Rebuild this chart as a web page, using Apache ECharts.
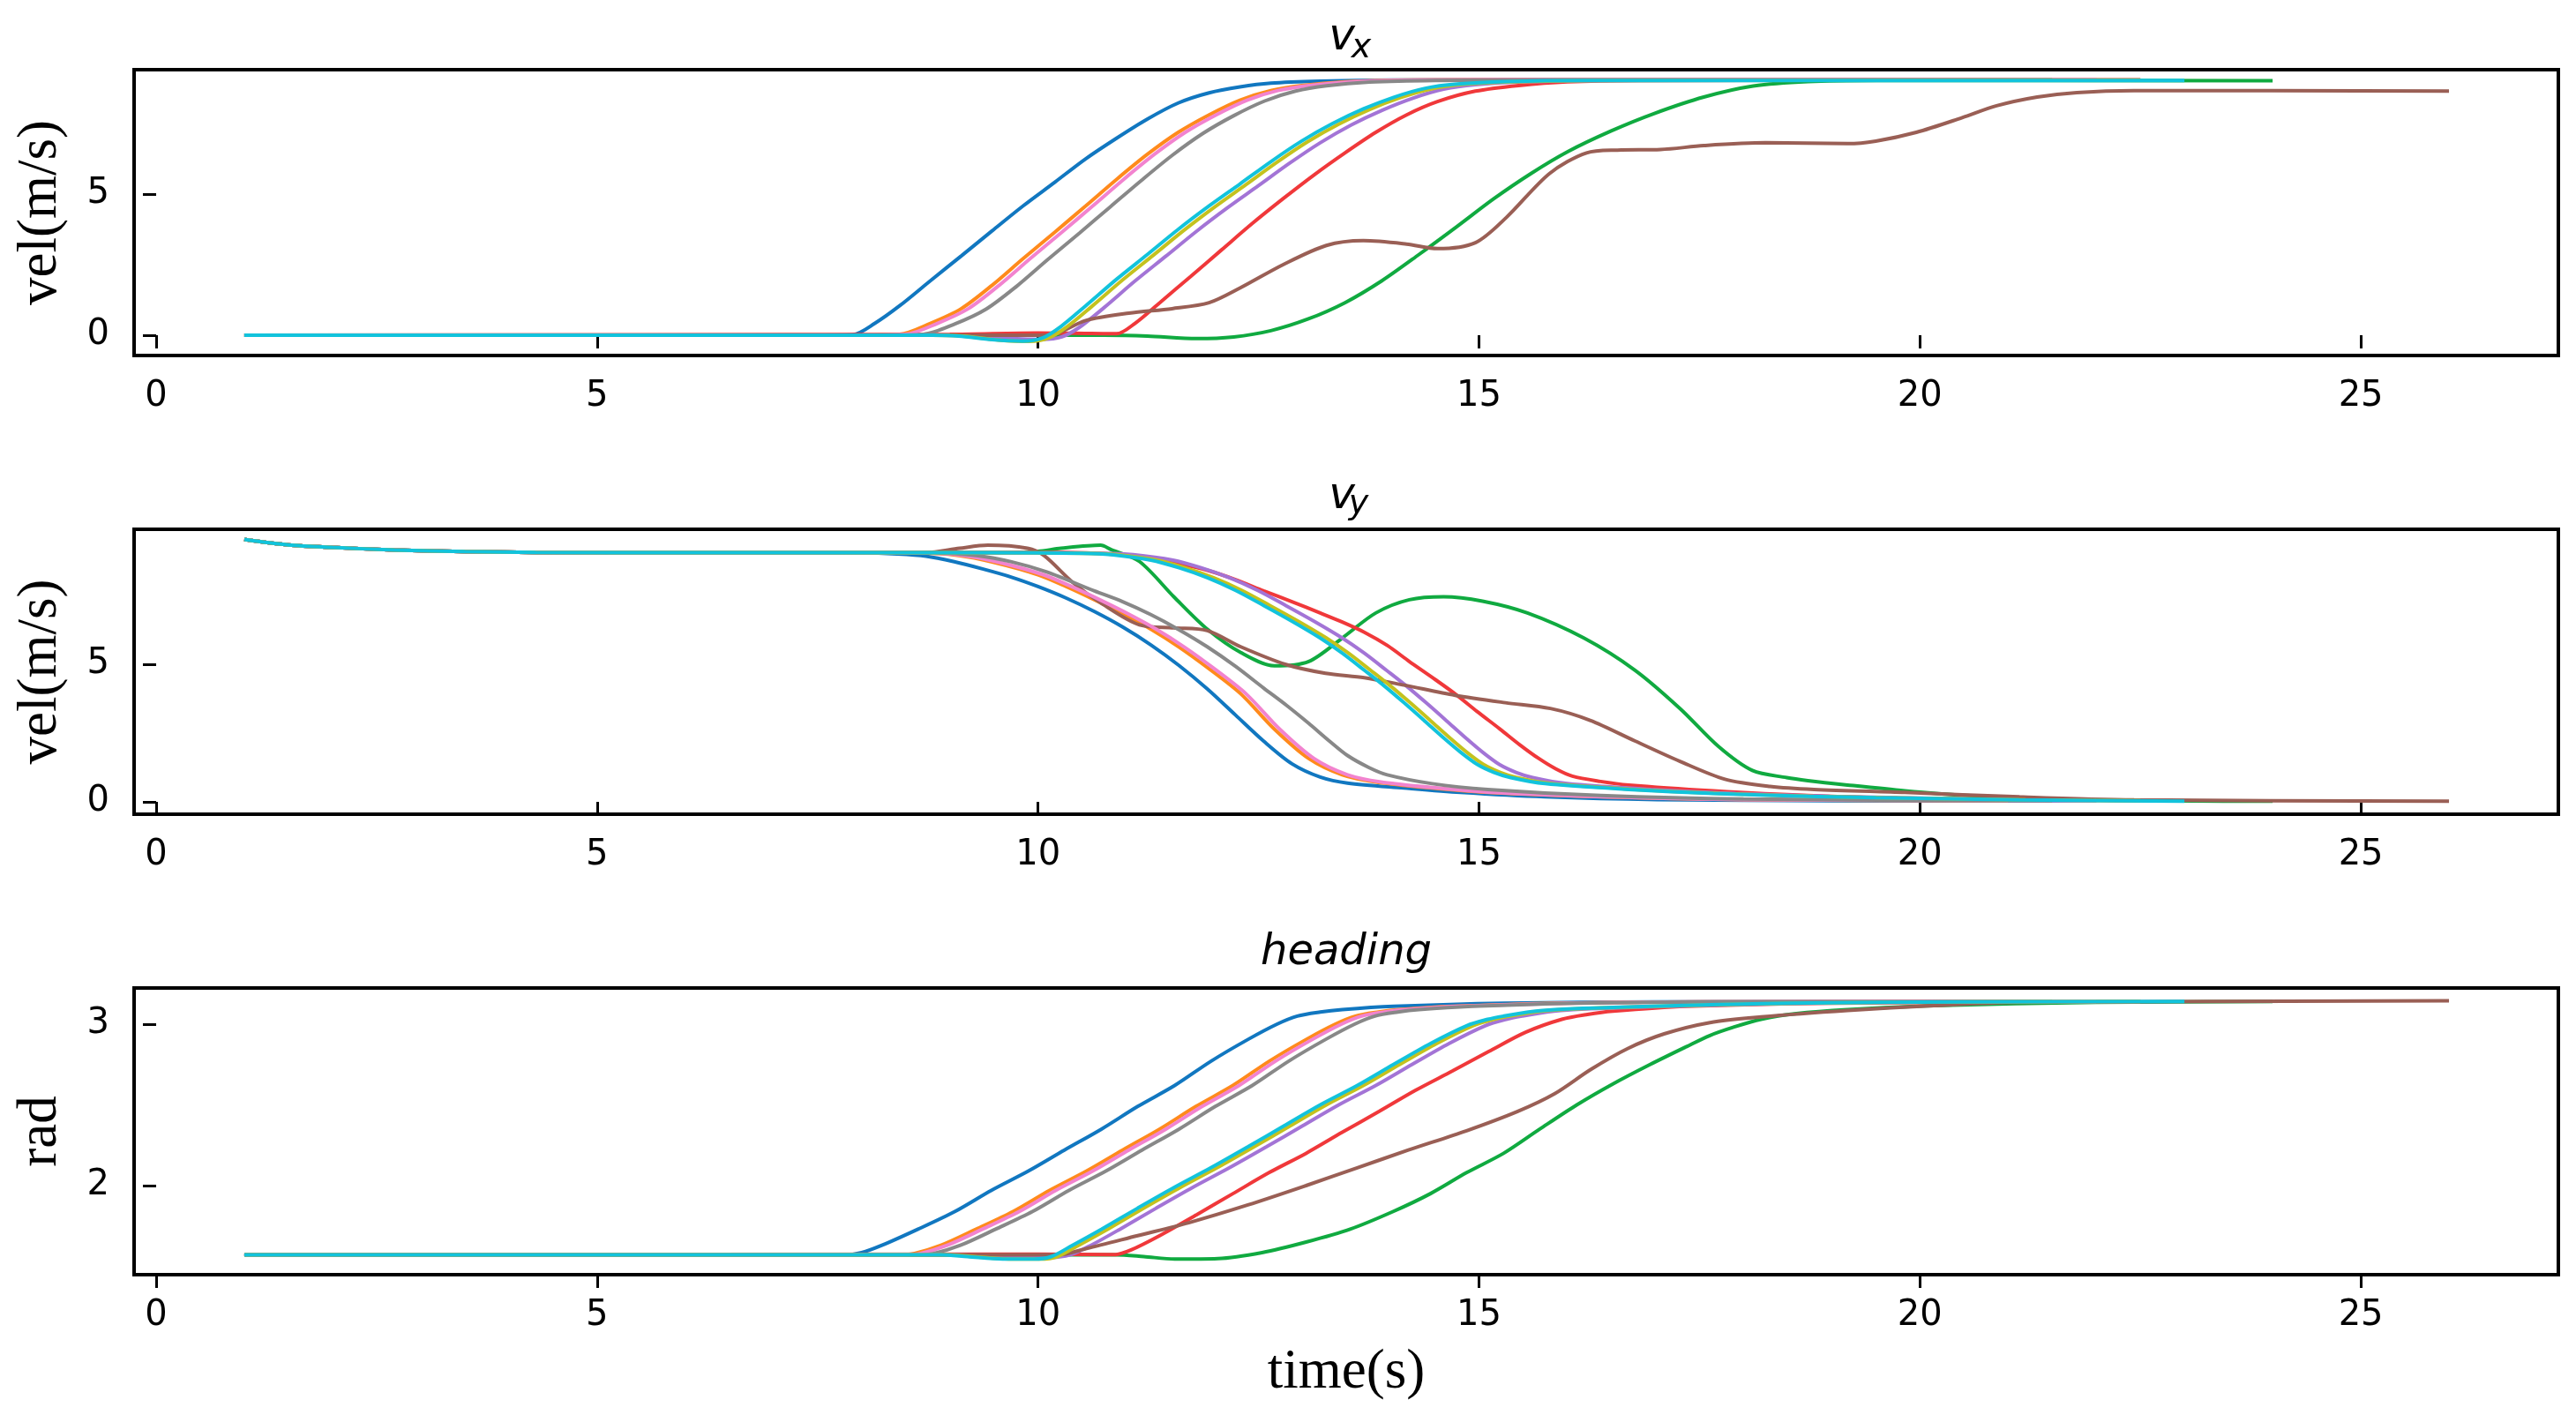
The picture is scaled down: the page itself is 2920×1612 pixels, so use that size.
<!DOCTYPE html>
<html>
<head>
<meta charset="utf-8">
<script src="https://cdn.jsdelivr.net/npm/echarts@6/dist/echarts.min.js"></script>
<style>
html,body{margin:0;padding:0;background:#fff;}
#chart{width:2920px;height:1612px;}
</style>
</head>
<body>
<div id="chart"></div>
<script>
// ---------- tick labels ----------
const TIME_TICKS = [0, 5, 10, 15, 20, 25];
const VX_TICKS = [0, 5];
const VY_TICKS = [0, 5];
const HEAD_TICKS = [2, 3];

// ---------- series (order as drawn) ----------
const NAMES = ['run1', 'run2', 'run3', 'run4', 'run5', 'run6', 'run7', 'run8', 'run9', 'run10'];
const COLORS = ['#1177c0', '#ff8a1c', '#10aa40', '#f0383a', '#a374d6', '#9a5f55', '#f283cf', '#888888', '#c4c21e', '#12c3dc'];

// ---------- v_x  [time, value] ----------
const vx_blue = [[1,0],[7.5,0],[7.9,0.02],[8.15,0.42],[8.43,1.04],[8.78,1.93],[9.13,2.81],[9.48,3.7],[9.83,4.58],[10.19,5.42],[10.54,6.25],[10.89,6.98],[11.24,7.66],[11.59,8.23],[11.94,8.59],[12.29,8.8],[12.64,8.93],[13.2,9.0],[14,9.04],[16,9.05],[22,9.05]];
const vx_orange = [[1,0],[8.0,0],[8.43,0.03],[8.78,0.42],[9.13,0.94],[9.48,1.77],[9.83,2.71],[10.19,3.65],[10.54,4.58],[10.89,5.52],[11.24,6.41],[11.59,7.19],[11.94,7.81],[12.29,8.33],[12.64,8.67],[12.99,8.85],[13.48,8.98],[14.2,9.04],[16,9.06],[21,9.06]];
const vx_green = [[1,0],[10.75,0],[11.24,-0.03],[11.8,-0.12],[12.22,-0.06],[12.64,0.16],[13.06,0.57],[13.48,1.15],[13.9,1.93],[14.32,2.86],[14.75,3.85],[15.17,4.84],[15.59,5.73],[16.01,6.51],[16.5,7.24],[16.99,7.86],[17.55,8.44],[18.11,8.83],[18.73,8.99],[19.5,9.03],[24,9.02]];
const vx_red = [[1,0],[9.0,0.03],[10.0,0.08],[10.6,0.06],[10.89,0.05],[11.1,0.42],[11.38,1.15],[11.73,2.08],[12.08,3.02],[12.43,3.96],[12.78,4.84],[13.13,5.68],[13.48,6.46],[13.83,7.19],[14.18,7.81],[14.53,8.28],[14.96,8.65],[15.45,8.85],[16.0,8.98],[16.8,9.03],[22.5,9.05]];
const vx_purple = [[1,0],[8.9,0],[9.3,-0.03],[9.7,-0.12],[10.05,-0.15],[10.27,-0.06],[10.47,0.28],[10.75,0.98],[11.1,1.92],[11.45,2.8],[11.8,3.69],[12.15,4.52],[12.5,5.3],[12.85,6.09],[13.2,6.82],[13.55,7.45],[13.9,7.97],[14.25,8.4],[14.6,8.72],[14.96,8.88],[15.52,8.98],[16.4,9.03],[22.5,9.04]];
const vx_brown = [[1,0],[10.12,0],[10.54,0.52],[11.03,0.78],[11.52,0.94],[11.94,1.15],[12.29,1.67],[12.78,2.5],[13.27,3.18],[13.69,3.35],[14.18,3.23],[14.53,3.07],[14.96,3.28],[15.31,4.17],[15.8,5.73],[16.22,6.46],[16.57,6.56],[17.06,6.58],[17.55,6.72],[18.25,6.82],[19.18,6.79],[19.5,6.88],[19.96,7.19],[20.48,7.71],[20.87,8.13],[21.33,8.44],[21.78,8.6],[22.43,8.67],[26,8.65]];
const vx_pink = [[1,0],[8.1,0],[8.5,0.03],[8.86,0.42],[9.21,0.94],[9.56,1.77],[9.91,2.71],[10.27,3.65],[10.62,4.58],[10.97,5.52],[11.32,6.41],[11.67,7.19],[12.02,7.81],[12.37,8.33],[12.72,8.67],[13.07,8.85],[13.56,8.98],[14.3,9.04],[16,9.06],[22,9.06]];
const vx_gray = [[1,0],[8.3,0],[8.7,0.03],[9.06,0.4],[9.41,0.92],[9.76,1.74],[10.11,2.68],[10.47,3.62],[10.82,4.55],[11.17,5.48],[11.52,6.37],[11.87,7.15],[12.22,7.78],[12.57,8.3],[12.92,8.65],[13.27,8.84],[13.76,8.97],[14.5,9.03],[16,9.05],[21.5,9.05]];
const vx_olive = [[1,0],[8.8,0],[9.15,-0.03],[9.55,-0.17],[9.9,-0.22],[10.12,-0.1],[10.33,0.3],[10.61,1.02],[10.96,1.96],[11.31,2.84],[11.66,3.73],[12.01,4.56],[12.36,5.34],[12.71,6.13],[13.06,6.86],[13.41,7.48],[13.76,8.0],[14.11,8.42],[14.46,8.73],[14.82,8.89],[15.38,8.98],[16.3,9.03],[22.5,9.04]];
const vx_cyan = [[1,0],[8.8,0],[9.1,-0.03],[9.48,-0.16],[9.83,-0.21],[10.05,-0.1],[10.26,0.31],[10.54,1.04],[10.89,1.98],[11.24,2.86],[11.59,3.75],[11.94,4.58],[12.29,5.36],[12.64,6.15],[12.99,6.88],[13.34,7.5],[13.69,8.02],[14.04,8.44],[14.39,8.75],[14.75,8.9],[15.31,8.99],[16.2,9.03],[23,9.03]];

// ---------- v_y  [time, value] ----------
const vy_start = [[1,9.53],[1.5,9.33],[2,9.24],[2.7,9.15],[3.5,9.09],[4.3,9.06],[6,9.05]];
const vy_blue = vy_start.concat([[8.0,9.04],[8.4,9.0],[8.73,8.92],[9.05,8.72],[9.37,8.46],[9.7,8.16],[10.0,7.82],[10.32,7.4],[10.64,6.91],[10.96,6.35],[11.28,5.7],[11.6,4.95],[11.92,4.1],[12.24,3.15],[12.56,2.2],[12.88,1.38],[13.2,0.9],[13.51,0.68],[14.15,0.5],[14.79,0.34],[15.75,0.18],[17.02,0.08],[19,0.04],[22,0.03]]);
const vy_orange = vy_start.concat([[8.6,9.04],[9.1,8.95],[9.5,8.7],[10.0,8.25],[10.32,7.82],[10.64,7.34],[10.96,6.83],[11.28,6.27],[11.6,5.62],[11.92,4.88],[12.3,3.92],[12.68,2.64],[13.07,1.57],[13.45,0.98],[13.83,0.72],[14.47,0.5],[15.1,0.34],[16.38,0.18],[18,0.08],[21,0.04]]);
const vy_green = vy_start.concat([[9.6,9.05],[10.0,9.1],[10.26,9.21],[10.71,9.32],[10.83,9.16],[11.15,8.73],[11.54,7.45],[11.92,6.27],[12.3,5.42],[12.68,4.94],[13.07,5.1],[13.45,5.95],[13.83,6.86],[14.21,7.34],[14.6,7.45],[15.04,7.29],[15.55,6.86],[16.19,5.95],[16.77,4.78],[17.28,3.39],[17.72,2.0],[18.1,1.14],[18.49,0.88],[18.73,0.77],[19.18,0.61],[19.83,0.4],[20.48,0.24],[21.78,0.08],[24,0.02]]);
const vy_red = vy_start.concat([[9.5,9.06],[10.3,9.06],[10.8,9.0],[11.28,8.84],[11.6,8.65],[11.92,8.41],[12.24,8.07],[12.56,7.66],[12.88,7.27],[13.2,6.86],[13.45,6.53],[13.7,6.16],[13.96,5.68],[14.21,5.1],[14.47,4.52],[14.73,3.92],[14.98,3.28],[15.24,2.64],[15.46,2.08],[15.68,1.57],[15.87,1.2],[16.06,0.93],[16.38,0.74],[16.7,0.61],[17.66,0.4],[18.73,0.23],[20,0.12],[22.5,0.05]]);
const vy_purple = vy_start.concat([[9.5,9.05],[10.75,9.03],[11.08,8.98],[11.53,8.78],[11.85,8.5],[12.17,8.14],[12.49,7.68],[12.81,7.13],[13.13,6.56],[13.45,5.95],[13.7,5.4],[13.95,4.78],[14.18,4.2],[14.4,3.6],[14.63,2.95],[14.85,2.32],[15.05,1.78],[15.23,1.36],[15.42,1.07],[15.61,0.88],[16.0,0.66],[16.95,0.45],[17.91,0.3],[18.98,0.2],[19.75,0.15],[21.38,0.07],[22.5,0.05]]);
const vy_brown = vy_start.concat([[8.73,9.05],[9.11,9.21],[9.43,9.32],[9.88,9.21],[10.07,8.94],[10.39,7.98],[10.71,7.23],[11.15,6.43],[11.54,6.32],[11.92,6.22],[12.3,5.63],[12.81,4.99],[13.26,4.67],[13.7,4.51],[14.15,4.24],[14.73,3.87],[15.3,3.6],[15.81,3.39],[16.26,2.96],[16.77,2.21],[17.28,1.47],[17.79,0.82],[18.3,0.56],[18.8,0.45],[19.83,0.34],[21.13,0.18],[22.43,0.07],[26,0.02]]);
const vy_pink = vy_start.concat([[8.66,9.04],[9.16,8.95],[9.56,8.7],[10.06,8.25],[10.38,7.82],[10.7,7.34],[11.02,6.83],[11.34,6.27],[11.66,5.62],[11.98,4.88],[12.36,3.92],[12.74,2.64],[13.13,1.57],[13.51,0.98],[13.89,0.72],[14.53,0.5],[15.16,0.34],[16.44,0.18],[18,0.08],[22,0.04]]);
const vy_gray = vy_start.concat([[8.8,9.04],[9.3,8.95],[9.7,8.72],[10.1,8.35],[10.64,7.66],[10.96,7.27],[11.28,6.8],[11.6,6.25],[11.92,5.63],[12.24,4.92],[12.56,4.13],[12.82,3.5],[13.07,2.85],[13.3,2.22],[13.51,1.68],[13.75,1.25],[13.96,0.98],[14.47,0.66],[15.1,0.45],[16.38,0.23],[18,0.1],[21.5,0.04]]);
const vy_olive = vy_start.concat([[9.5,9.05],[10.57,9.03],[10.9,8.98],[11.35,8.78],[11.67,8.5],[11.99,8.14],[12.31,7.68],[12.63,7.13],[12.95,6.56],[13.27,5.95],[13.52,5.4],[13.77,4.78],[14.0,4.2],[14.22,3.6],[14.45,2.95],[14.67,2.32],[14.87,1.78],[15.05,1.36],[15.24,1.07],[15.43,0.88],[15.82,0.66],[16.77,0.45],[17.73,0.3],[18.8,0.2],[19.57,0.15],[21.2,0.07],[22.5,0.04]]);
const vy_cyan = vy_start.concat([[9.5,9.05],[10.5,9.03],[10.83,8.98],[11.28,8.78],[11.6,8.5],[11.92,8.14],[12.24,7.68],[12.56,7.13],[12.88,6.56],[13.2,5.95],[13.45,5.4],[13.7,4.78],[13.93,4.2],[14.15,3.6],[14.38,2.95],[14.6,2.32],[14.8,1.78],[14.98,1.36],[15.17,1.07],[15.36,0.88],[15.75,0.66],[16.7,0.45],[17.66,0.3],[18.73,0.2],[19.5,0.15],[21.13,0.07],[23,0.02]]);

// ---------- heading  [time, rad] ----------
const hd_blue = [[1,1.571],[7.8,1.571],[8.0,1.585],[8.23,1.63],[8.64,1.73],[9.06,1.84],[9.47,1.97],[9.89,2.09],[10.3,2.22],[10.72,2.35],[11.13,2.49],[11.55,2.62],[11.96,2.77],[12.38,2.905],[12.71,3.0],[12.94,3.05],[13.2,3.075],[13.45,3.09],[14.03,3.11],[15.28,3.13],[17,3.138],[22,3.141]];
const hd_orange = [[1,1.571],[8.4,1.571],[8.6,1.58],[8.9,1.63],[9.3,1.73],[9.72,1.84],[10.13,1.97],[10.55,2.09],[10.96,2.22],[11.38,2.35],[11.79,2.49],[12.21,2.62],[12.62,2.77],[13.04,2.905],[13.37,3.0],[13.6,3.05],[13.86,3.075],[14.1,3.09],[14.7,3.11],[15.9,3.13],[17.5,3.138],[21,3.141]];
const hd_green = [[1,1.571],[10.88,1.571],[11.2,1.56],[11.55,1.545],[12.04,1.548],[12.54,1.585],[13.04,1.65],[13.54,1.73],[14.03,1.84],[14.45,1.95],[14.86,2.08],[15.28,2.2],[15.69,2.35],[16.11,2.5],[16.52,2.63],[16.94,2.75],[17.35,2.86],[17.62,2.93],[17.88,2.98],[18.2,3.03],[18.6,3.065],[19.18,3.09],[20.16,3.115],[22,3.135],[24,3.14]];
const hd_red = [[1,1.571],[10.0,1.575],[10.88,1.573],[11.05,1.6],[11.38,1.69],[11.8,1.82],[12.21,1.95],[12.62,2.08],[13.04,2.2],[13.45,2.33],[13.87,2.46],[14.28,2.59],[14.7,2.71],[15.11,2.83],[15.53,2.95],[15.94,3.03],[16.23,3.06],[16.52,3.08],[17.35,3.11],[19,3.13],[22.5,3.141]];
const hd_purple = [[1,1.571],[9.1,1.571],[9.4,1.563],[9.8,1.555],[10.15,1.555],[10.36,1.57],[10.6,1.63],[10.93,1.73],[11.34,1.86],[11.76,1.99],[12.17,2.11],[12.59,2.24],[13.0,2.37],[13.41,2.5],[13.83,2.62],[14.24,2.75],[14.66,2.88],[15.07,2.99],[15.31,3.03],[15.49,3.05],[15.77,3.075],[16.07,3.09],[17.15,3.11],[18.7,3.13],[20.7,3.138],[22.5,3.141]];
const hd_brown = [[1,1.571],[10.22,1.571],[10.55,1.61],[11.13,1.69],[11.71,1.77],[12.38,1.88],[13.04,2.0],[13.62,2.11],[14.2,2.22],[14.86,2.34],[15.44,2.46],[15.86,2.57],[16.27,2.72],[16.69,2.85],[17.1,2.94],[17.62,3.01],[18.2,3.045],[19.18,3.085],[20.16,3.115],[21.13,3.135],[26,3.145]];
const hd_pink = [[1,1.571],[8.47,1.571],[8.67,1.58],[8.97,1.63],[9.37,1.73],[9.79,1.84],[10.2,1.97],[10.62,2.09],[11.03,2.22],[11.45,2.35],[11.86,2.49],[12.28,2.62],[12.69,2.77],[13.11,2.905],[13.44,3.0],[13.67,3.05],[13.93,3.075],[14.17,3.09],[14.77,3.11],[16,3.13],[17.5,3.138],[22,3.141]];
const hd_gray = [[1,1.571],[8.62,1.571],[8.82,1.58],[9.12,1.63],[9.52,1.73],[9.94,1.84],[10.35,1.97],[10.77,2.09],[11.18,2.22],[11.6,2.35],[12.01,2.49],[12.43,2.62],[12.84,2.77],[13.26,2.905],[13.59,3.0],[13.82,3.05],[14.08,3.075],[14.32,3.09],[14.92,3.11],[16.1,3.13],[17.7,3.138],[21.5,3.141]];
const hd_olive = [[1,1.571],[8.97,1.571],[9.27,1.56],[9.67,1.545],[10.02,1.545],[10.22,1.56],[10.46,1.63],[10.79,1.73],[11.2,1.86],[11.62,1.99],[12.03,2.11],[12.45,2.24],[12.86,2.37],[13.27,2.5],[13.69,2.62],[14.1,2.75],[14.52,2.88],[14.93,2.99],[15.17,3.03],[15.35,3.05],[15.63,3.075],[15.93,3.09],[17.0,3.11],[18.6,3.13],[20.6,3.138],[22.5,3.141]];
const hd_cyan = [[1,1.571],[8.9,1.571],[9.2,1.56],[9.6,1.545],[9.95,1.545],[10.15,1.56],[10.39,1.63],[10.72,1.73],[11.13,1.86],[11.55,1.99],[11.96,2.11],[12.38,2.24],[12.79,2.37],[13.2,2.5],[13.62,2.62],[14.03,2.75],[14.45,2.88],[14.86,2.99],[15.1,3.03],[15.28,3.05],[15.56,3.075],[15.86,3.09],[16.94,3.11],[18.5,3.13],[20.5,3.138],[23,3.141]];

const PANEL_DATA = [
  [vx_blue, vx_orange, vx_green, vx_red, vx_purple, vx_brown, vx_pink, vx_gray, vx_olive, vx_cyan],
  [vy_blue, vy_orange, vy_green, vy_red, vy_purple, vy_brown, vy_pink, vy_gray, vy_olive, vy_cyan],
  [hd_blue, hd_orange, hd_green, hd_red, hd_purple, hd_brown, hd_pink, hd_gray, hd_olive, hd_cyan]
];

// ---------- layout ----------
const GRIDS = [
  {left: 152, right: 20, top: 79, height: 324},
  {left: 152, right: 20, top: 600, height: 323},
  {left: 152, right: 20, top: 1120, height: 325}
];
const Y_RANGES = [[-0.72, 9.41], [-0.45, 9.9], [1.448, 3.224]];
const Y_TICKS = [VX_TICKS, VY_TICKS, HEAD_TICKS];
const Y_NAMES = ['vel(m/s)', 'vel(m/s)', 'rad'];

const tickFont = {fontFamily: 'DejaVu Sans', fontSize: 40, color: '#000'};
const nameFont = {fontFamily: 'Liberation Serif', fontSize: 63, color: '#000'};

const chart = echarts.init(document.getElementById('chart'), null, {renderer: 'canvas'});

const grid = GRIDS.map(g => Object.assign({show: true, borderColor: '#000', borderWidth: 4, backgroundColor: 'transparent', containLabel: false}, g));

const xAxis = GRIDS.map((g, i) => ({
  gridIndex: i, type: 'value', min: -0.25, max: 27.24,
  axisLine: {show: false},
  axisTick: {show: true, customValues: TIME_TICKS, length: 15, lineStyle: {color: '#000', width: 3}},
  axisLabel: Object.assign({show: true, customValues: TIME_TICKS, margin: 27}, tickFont),
  splitLine: {show: false},
  name: i === 2 ? 'time(s)' : '',
  nameLocation: 'middle', nameGap: 80,
  nameTextStyle: nameFont
}));

const yAxis = GRIDS.map((g, i) => ({
  gridIndex: i, type: 'value', min: Y_RANGES[i][0], max: Y_RANGES[i][1],
  axisLine: {show: false},
  axisTick: {show: true, customValues: Y_TICKS[i], length: 15, lineStyle: {color: '#000', width: 3}},
  axisLabel: Object.assign({show: true, customValues: Y_TICKS[i], margin: 28}, tickFont),
  splitLine: {show: false},
  name: Y_NAMES[i], nameLocation: 'middle', nameRotate: 90, nameGap: 74,
  nameTextStyle: nameFont
}));

const series = [];
PANEL_DATA.forEach((panel, p) => {
  panel.forEach((data, i) => {
    series.push({
      name: NAMES[i], type: 'line', xAxisIndex: p, yAxisIndex: p,
      data: data, symbol: 'none', showSymbol: false,
      smooth: 0.3, silent: true,
      lineStyle: {width: 4, color: COLORS[i]},
      itemStyle: {color: COLORS[i]}
    });
  });
});

const titleStyle = (txt, size) => ({text: txt, fontSize: size, fontStyle: 'italic', fontFamily: 'DejaVu Sans', fill: '#000', align: 'center', verticalAlign: 'middle'});

chart.setOption({
  animation: false,
  backgroundColor: '#fff',
  grid: grid,
  xAxis: xAxis,
  yAxis: yAxis,
  series: series,
  graphic: [
    {type: 'text', x: 1521, y: 43, style: titleStyle('v', 50)},
    {type: 'text', x: 1543, y: 55, style: titleStyle('x', 38)},
    {type: 'text', x: 1521, y: 563, style: titleStyle('v', 50)},
    {type: 'text', x: 1540, y: 572, style: titleStyle('y', 38)},
    {type: 'text', x: 1526, y: 1081, style: titleStyle('heading', 48)}
  ]
});
</script>
</body>
</html>
